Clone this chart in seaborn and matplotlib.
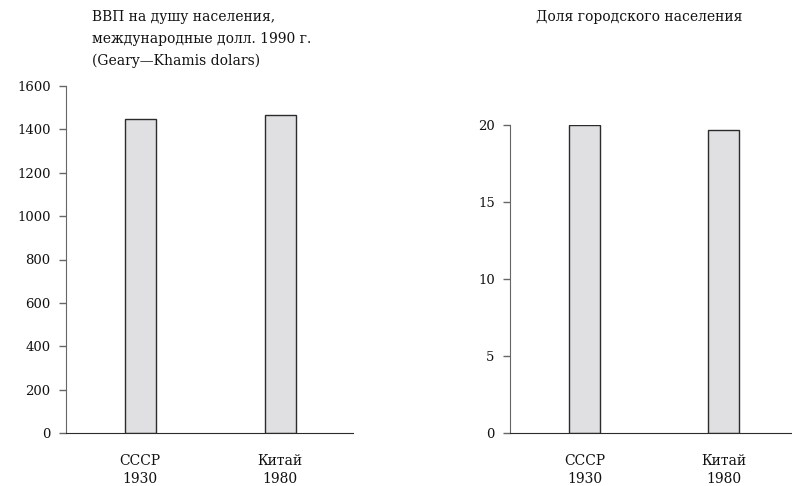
import matplotlib
matplotlib.use('Agg')
import matplotlib.pyplot as plt
import seaborn as sns

# Data
countries = ['СССР\n1930', 'Китай\n1980']
gdp_per_capita = [1448, 1465]
urban_share = [20.0, 19.7]

gdp_ticks = [0, 200, 400, 600, 800, 1000, 1200, 1400, 1600]
urban_ticks = [0, 5, 10, 15, 20]

gdp_title = 'ВВП на душу населения,\nмеждународные долл. 1990 г.\n(Geary—Khamis dolars)'
urban_title = 'Доля городского населения'

sns.set_style('ticks')
plt.rcParams['font.family'] = ['DejaVu Serif']
plt.rcParams['font.size'] = 10
plt.rcParams['text.color'] = '#111111'
plt.rcParams['xtick.labelcolor'] = '#111111'
plt.rcParams['ytick.labelcolor'] = '#111111'

bar_fill = '#e0e0e2'
bar_edge = '#2b2b2b'

fig = plt.figure(figsize=(7.92, 4.86), dpi=100)
ax1 = fig.add_axes([66 / 792, 53 / 486, 287 / 792, 347 / 486])
ax2 = fig.add_axes([510 / 792, 53 / 486, 282 / 792, 308 / 486])


def draw_panel(ax, values, ticks, ymax, xlim):
    sns.barplot(x=countries, y=values, color=bar_fill, edgecolor=bar_edge,
                linewidth=1.0, width=0.22, saturation=1, ax=ax)
    ax.set_ylim(0, ymax)
    ax.set_xlim(*xlim)
    ax.set_yticks(ticks)
    ax.set_yticklabels([str(t) for t in ticks], fontsize=9.5)
    ax.tick_params(axis='x', length=0, pad=15, labelsize=10)
    ax.tick_params(axis='y', length=5, width=1, color='#666666', pad=6)
    sns.despine(ax=ax)
    ax.spines['left'].set_color('#666666')
    ax.spines['bottom'].set_color('#2b2b2b')
    ax.set_xlabel('')
    ax.set_ylabel('')
    for lab in ax.get_xticklabels():
        lab.set_linespacing(1.35)


draw_panel(ax1, gdp_per_capita, gdp_ticks, 1600, (-0.53, 1.52))
draw_panel(ax2, urban_share, urban_ticks, 20, (-0.536, 1.49))

fig.text(92 / 792, 1 - 10 / 486, gdp_title, ha='left', va='top',
         fontsize=10, linespacing=1.7)
fig.text(536 / 792, 1 - 10 / 486, urban_title, ha='left', va='top',
         fontsize=10)

fig.savefig('out.png', dpi=100)
